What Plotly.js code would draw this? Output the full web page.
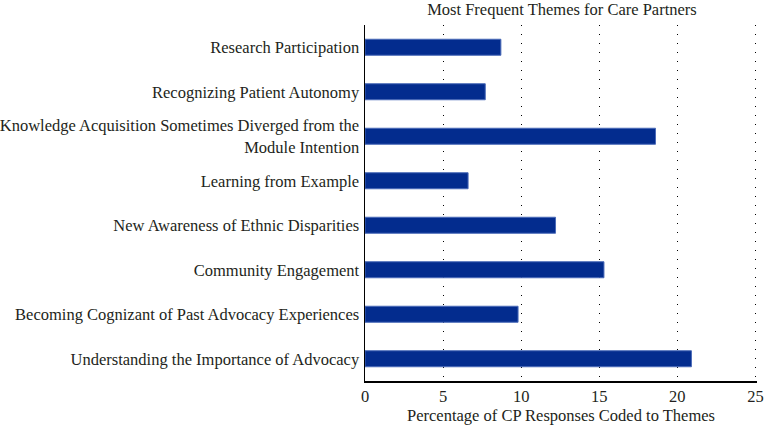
<!DOCTYPE html>
<html>
<head>
<meta charset="utf-8">
<script src="https://cdn.plot.ly/plotly-3.0.1.min.js"></script>
<style>html,body{margin:0;padding:0;background:#fff;}#chart{width:764px;height:425px;}</style>
</head>
<body>
<div id="chart"></div>
<script>
const themes = [
  "Research Participation",
  "Recognizing Patient Autonomy",
  "Knowledge Acquisition Sometimes Diverged from the<br>Module Intention",
  "Learning from Example",
  "New Awareness of Ethnic Disparities",
  "Community Engagement",
  "Becoming Cognizant of Past Advocacy Experiences",
  "Understanding the Importance of Advocacy"
];
const percentages = [8.7, 7.7, 18.6, 6.6, 12.2, 15.3, 9.8, 20.9];
const xTicks = [0, 5, 10, 15, 20, 25];

const font = "Liberation Serif, Times New Roman, serif";
Plotly.newPlot("chart", [{
  type: "bar",
  orientation: "h",
  y: themes,
  x: percentages,
  width: 0.36,
  marker: {color: "#032c8e", line: {color: "#4a6ab8", width: 1}},
  hoverinfo: "none"
}], {
  width: 764, height: 425,
  margin: {l: 365, r: 7, t: 25, b: 44, pad: 0},
  paper_bgcolor: "#fff", plot_bgcolor: "#fff",
  font: {family: font, size: 16.5, color: "#231f20"},
  title: {text: "Most Frequent Themes for Care Partners", font: {family: font, size: 16.5, color: "#231f20"}, x: 0.7355, xanchor: "center", y: 0.993, yanchor: "top"},
  showlegend: false,
  xaxis: {
    range: [0, 25.1], tickvals: xTicks, ticktext: xTicks.map(String),
    showline: true, linecolor: "#000", linewidth: 1.5,
    showgrid: true, gridcolor: "#000", gridwidth: 1, griddash: "1px,8px",
    zeroline: false, ticks: "", ticklen: 0,
    ticklabeloverflow: "allow",
    title: {text: "Percentage of CP Responses Coded to Themes", font: {family: font, size: 16.5}, standoff: 2},
    tickfont: {family: font, size: 16.5}
  },
  yaxis: {
    autorange: "reversed",
    showline: true, linecolor: "#000", linewidth: 1.5,
    showgrid: false, zeroline: false, ticks: "",
    ticklabelstandoff: 1,
    tickfont: {family: font, size: 16.5}
  }
}, {displayModeBar: false, staticPlot: true});
</script>
</body>
</html>
